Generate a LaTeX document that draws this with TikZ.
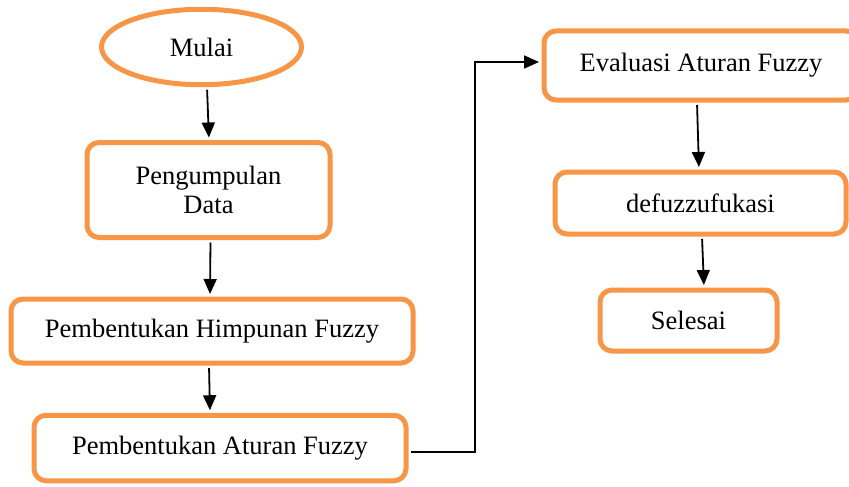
\documentclass[tikz,border=0pt]{standalone}
\usepackage{fontspec}
\setmainfont{Liberation Serif}
\usetikzlibrary{shapes.geometric,arrows.meta}
\definecolor{boxorange}{RGB}{247,150,70}
\tikzset{
  flowbox/.style={draw=boxorange, line width=5pt, rounded corners=12pt,
    rectangle, inner sep=0pt, align=center, font=\fontsize{26.5}{29}\selectfont},
  startend/.style={draw=boxorange, line width=5pt, ellipse, inner sep=0pt,
    font=\fontsize{26.5}{29}\selectfont},
  tipstyle/.style={-{Triangle[length=15pt,width=13pt]}},
  flowarrow/.style={line width=1.8pt, tipstyle, shorten <=2.5pt, shorten >=2.5pt},
}
\begin{document}
\begin{tikzpicture}[x=1pt,y=-1pt]
  \useasboundingbox (0,0) rectangle (849,487);

  % left column
  \node[startend, minimum width=200pt, minimum height=75.5pt] (mulai) at (201.5,47) {Mulai};
  \node[flowbox, minimum width=243pt, minimum height=95pt] (data) at (208.5,190) {Pengumpulan\\Data};
  \node[flowbox, minimum width=402pt, minimum height=64pt] (himp) at (212,331) {Pembentukan Himpunan Fuzzy};
  \node[flowbox, minimum width=372pt, minimum height=65.5pt] (atur) at (220,448) {Pembentukan Aturan Fuzzy};

  % right column
  \node[flowbox, minimum width=314pt, minimum height=69pt] (eval) at (701,65.5) {Evaluasi Aturan Fuzzy};
  \node[flowbox, minimum width=291pt, minimum height=62pt] (defuz) at (700.5,203) {defuzzufukasi};
  \node[flowbox, minimum width=177pt, minimum height=61pt] (selesai) at (688.5,320.5) {Selesai};

  % connectors
  \draw[flowarrow] ([xshift=5.5pt]mulai.south) -- ([xshift=0.5pt]data.north);
  \draw[flowarrow] ([xshift=2pt]data.south) -- ([xshift=-2pt]himp.north);
  \draw[flowarrow] ([xshift=-3pt]himp.south) -- ([xshift=-10pt]atur.north);

  \coordinate (bend) at (475,452);
  \draw[flowarrow] ([yshift=-4pt]atur.east) -- (bend) |- ([yshift=3.5pt]eval.west);

  \draw[flowarrow] ([xshift=-4pt]eval.south) -- ([xshift=-1.5pt]defuz.north);
  \draw[flowarrow] ([xshift=1.5pt]defuz.south) -- ([xshift=15.5pt]selesai.north);
\end{tikzpicture}
\end{document}
